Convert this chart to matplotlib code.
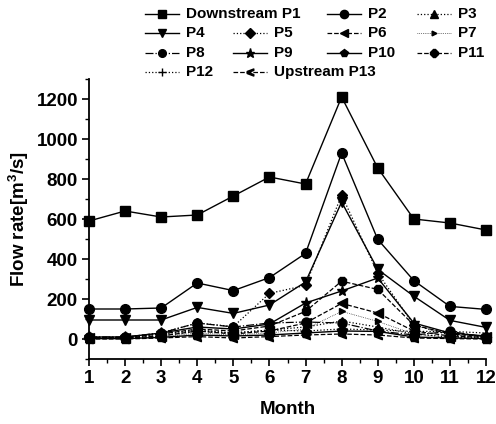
import matplotlib
matplotlib.use("Agg")
import matplotlib.pyplot as plt
from matplotlib.lines import Line2D
from matplotlib.ticker import MultipleLocator

plt.rcParams['font.family'] = ['Liberation Sans', 'DejaVu Sans']
plt.rcParams['font.weight'] = 'bold'
plt.rcParams['mathtext.fontset'] = 'custom'
plt.rcParams['mathtext.rm'] = 'Liberation Sans:bold'
plt.rcParams['mathtext.bf'] = 'Liberation Sans:bold'
plt.rcParams['mathtext.default'] = 'rm'

months = list(range(1, 13))
labels = ["Downstream P1", "P2", "P3", "P4", "P5", "P6", "P7",
          "P8", "P9", "P10", "P11", "P12", "Upstream P13"]
P1 = [590, 640, 610, 620, 715, 810, 775, 1210, 855, 600, 580, 545]
P2 = [150, 150, 155, 280, 242, 307, 428, 930, 498, 292, 163, 148]
P3 = [5, 5, 25, 45, 30, 45, 60, 90, 60, 25, 10, 5]
P4 = [95, 95, 95, 158, 128, 170, 285, 685, 348, 214, 93, 58]
P5 = [8, 8, 30, 80, 62, 228, 268, 720, 330, 70, 20, 10]
P6 = [5, 5, 15, 40, 25, 40, 80, 178, 130, 40, 15, 8]
P7 = [3, 3, 10, 30, 20, 30, 50, 138, 88, 25, 8, 3]
P8 = [10, 10, 30, 80, 60, 80, 85, 80, 40, 20, 38, 10]
P9 = [10, 10, 30, 60, 50, 75, 180, 240, 305, 80, 30, 15]
P10 = [2, 2, 8, 20, 15, 20, 30, 40, 38, 10, 5, 2]
P11 = [8, 8, 25, 50, 40, 65, 138, 289, 248, 70, 25, 12]
P12 = [4, 4, 15, 40, 30, 45, 40, 50, 45, 38, 38, 30]
P13 = [0, 0, 5, 12, 5, 12, 20, 25, 20, 5, 2, 0]
series = [P1, P2, P3, P4, P5, P6, P7, P8, P9, P10, P11, P12, P13]

styles = [
    dict(ls='-', marker='s', ms=6.5, lw=1.0),
    dict(ls='-', marker='o', ms=7, lw=1.0),
    dict(ls=':', marker='^', ms=6, lw=0.9),
    dict(ls='-', marker='v', ms=7, lw=1.0),
    dict(ls=':', marker='D', ms=5.5, lw=0.9),
    dict(ls='--', marker='<', ms=6.5, lw=0.9),
    dict(ls=':', marker='>', ms=4, lw=0.5),
    dict(ls='-.', marker='o', ms=6.5, lw=0.9),
    dict(ls='-', marker='*', ms=8, lw=1.0),
    dict(ls='-', marker='p', ms=7, lw=1.0),
    dict(ls='--', marker='8', ms=6.5, lw=0.9),
    dict(ls=':', marker='+', ms=6, lw=0.9),
    dict(ls='--', marker='$<$', ms=6, lw=0.9),
]

W, H = 496, 424
fig = plt.figure(figsize=(W / 100, H / 100), dpi=100)
ax = fig.add_axes([89 / W, 1 - 359 / H, (486 - 89) / W, (359 - 79) / H])

for y, st in zip(series, styles):
    ax.plot(months, y, color='black', linestyle=st['ls'], lw=st['lw'],
            marker=st['marker'], markersize=st['ms'],
            markerfacecolor='black', markeredgecolor='black', clip_on=False)

ax.set_xlim(1, 12)
ax.set_ylim(-100, 1300)
ax.xaxis.set_major_locator(MultipleLocator(1))
ax.xaxis.set_minor_locator(MultipleLocator(0.5))
ax.yaxis.set_major_locator(MultipleLocator(200))
ax.yaxis.set_minor_locator(MultipleLocator(100))
ax.set_yticks(range(0, 1201, 200))
for s in ['top', 'right']:
    ax.spines[s].set_visible(False)
for s in ['left', 'bottom']:
    ax.spines[s].set_linewidth(1.3)
ax.tick_params(axis='both', which='major', direction='out', length=5, width=1.2,
               labelsize=13.5, pad=3)
ax.tick_params(axis='both', which='minor', direction='out', length=3, width=1.0)
for t in ax.get_xticklabels() + ax.get_yticklabels():
    t.set_fontweight('bold')

ax.set_xlabel('Month', fontsize=13.5, fontweight='bold', labelpad=10)
ax.set_ylabel('Flow rate[m$^3$/s]', fontsize=13.5, fontweight='bold', labelpad=4)

# Manual legend (4 rows, P1 label spans two columns)
rows_y = [14, 33, 53, 72]
cols_x = [145, 233, 327, 417]
positions = [(0, 0), (0, 2), (0, 3),
             (1, 0), (1, 1), (1, 2), (1, 3),
             (2, 0), (2, 1), (2, 2), (2, 3),
             (3, 0), (3, 1)]
for lab, st, (r, c) in zip(labels, styles, positions):
    x0 = cols_x[c]
    yy = 1 - rows_y[r] / H
    fig.add_artist(Line2D([x0 / W, (x0 + 34) / W], [yy, yy], transform=fig.transFigure,
                          color='black', linestyle=st['ls'], lw=st['lw']))
    fig.add_artist(Line2D([(x0 + 17) / W], [yy], transform=fig.transFigure,
                          color='black', marker=st['marker'], markersize=st['ms'] * 0.85,
                          markerfacecolor='black', markeredgecolor='black', linestyle='none'))
    fig.text((x0 + 41) / W, yy, lab, fontsize=11, fontweight='bold',
             va='center', ha='left')

fig.savefig('out.png', dpi=100)
